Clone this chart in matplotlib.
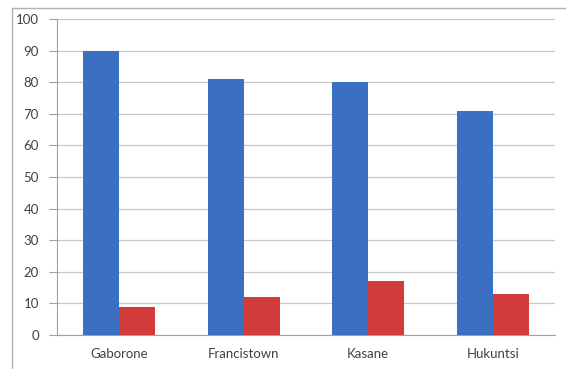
import numpy as np
import matplotlib
matplotlib.use("Agg")
import matplotlib.pyplot as plt
from matplotlib.patches import Rectangle

plt.rcParams['font.family'] = ['Lato', 'DejaVu Sans']

towns = ["Gaborone", "Francistown", "Kasane", "Hukuntsi"]
blue_vals = [90, 81, 80, 71]
red_vals = [9, 12, 17, 13]
yticks = [0, 10, 20, 30, 40, 50, 60, 70, 80, 90, 100]

fig = plt.figure(figsize=(5.66, 3.69), dpi=100)
# outer chart frame (runs off the right and bottom edges)
fig.patches.append(Rectangle((12/566, -0.05), 1.0, (369-8)/369 + 0.05,
                             transform=fig.transFigure, fill=False,
                             edgecolor="#b0b0b0", linewidth=1.0))
ax = fig.add_axes([57/566, 34/369, 498/566, 316/369])

x = np.arange(len(towns))
w = 0.29
ax.bar(x - w/2, blue_vals, width=w, color="#3b6fc2", zorder=3)
ax.bar(x + w/2, red_vals, width=w, color="#d23b3b", zorder=3)

ax.set_xlim(-0.5, len(towns) - 0.5)
ax.set_ylim(0, 100)
ax.set_yticks(yticks)
ax.set_xticks(x)
ax.set_xticklabels(towns)
ax.grid(axis="y", color="#c8c8c8", linewidth=0.9, zorder=0)

for s in ["top", "right"]:
    ax.spines[s].set_visible(False)
ax.spines["left"].set_color("#a0a0a0")
ax.spines["bottom"].set_color("#a0a0a0")
ax.tick_params(axis="y", direction="out", length=6, color="#a0a0a0",
               labelsize=9.5, labelcolor="#404040", pad=7)
ax.tick_params(axis="x", length=0, labelsize=9.5,
               labelcolor="#404040", pad=9)

fig.savefig("out.png", dpi=100)
